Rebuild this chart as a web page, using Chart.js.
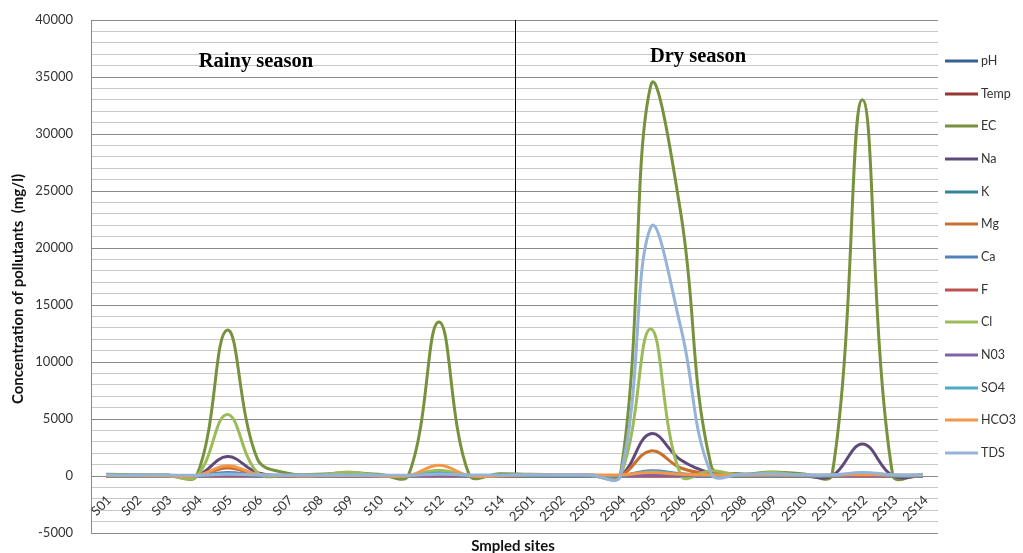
<!DOCTYPE html>
<html>
<head>
<meta charset="utf-8">
<script src="https://cdn.jsdelivr.net/npm/chart.js@4.4.1/dist/chart.umd.min.js"></script>
<style>
body{margin:0;background:#fff;}
</style>
</head>
<body>
<canvas id="chart" width="1023" height="553"></canvas>
<script>
//Data
var sites = ["S01","S02","S03","S04","S05","S06","S07","S08","S09","S10","S11","S12","S13","S14",
	"2S01","2S02","2S03","2S04","2S05","2S06","2S07","2S08","2S09","2S10","2S11","2S12","2S13","2S14"];
var yLabels = [-5000,0,5000,10000,15000,20000,25000,30000,35000,40000];
var yMinor = 1000;
var names = ["pH","Temp","EC","Na","K","Mg","Ca","F","Cl","N03","SO4","HCO3","TDS"];
var colors = ["#366092","#953735","#76923C","#5F497A","#31859C","#C9702E","#4F81BD","#C0504D","#9BBB59","#8064A2","#4BACC6","#F79646","#95B3D7"];
var pH   = [7.2,7.0,6.8,7.1,7.4,7.3,6.9,7.0,7.2,7.1,6.8,7.5,7.3,7.0, 7.4,7.6,7.2,7.3,7.8,7.5,7.1,7.2,7.4,7.0,7.3,7.6,7.2,7.1];
var temp = [28.5,29.1,28.7,29.4,30.2,29.8,28.9,29.0,29.5,28.6,29.2,30.1,29.7,28.8, 31.2,31.8,30.9,31.5,32.1,31.4,30.8,31.0,31.6,30.7,31.3,32.0,31.1,30.9];
var ec   = [150,120,100,80,12800,1500,250,150,300,150,100,13500,120,200, 150,120,100,80,34200,23000,900,200,350,200,150,33000,100,150];
var na   = [20,15,18,12,1700,300,40,30,35,25,20,150,30,25, 30,25,20,15,3700,1400,250,60,50,20,10,2800,20,30];
var k    = [5,4,6,3,150,20,5,4,6,5,4,300,6,5, 10,8,9,7,300,120,15,10,12,9,8,200,10,9];
var mg   = [15,12,10,8,700,120,20,15,18,12,10,250,14,12, 20,18,15,12,2200,700,150,40,35,25,20,180,25,20];
var ca   = [30,25,20,18,300,60,30,25,28,22,20,350,25,22, 40,35,30,25,450,200,60,40,45,35,30,250,35,30];
var f    = [0.8,0.6,0.7,0.5,1.2,0.9,0.6,0.7,0.8,0.5,0.6,1.1,0.7,0.6, 1.0,0.9,0.8,0.7,1.5,1.2,0.8,0.9,1.0,0.8,0.7,1.3,0.9,0.8];
var cl   = [30,25,20,15,5400,300,40,30,350,30,25,500,30,40, 50,40,30,25,12900,50,450,80,300,60,50,150,60,50];
var no3  = [20,18,15,12,60,25,15,12,18,14,12,50,15,14, 25,20,18,15,80,40,20,18,20,15,14,60,18,16];
var so4  = [10,8,9,7,200,40,10,8,12,9,8,250,10,9, 20,18,15,12,400,150,30,20,25,18,15,200,20,18];
var hco3 = [40,35,30,25,900,150,40,35,40,30,25,950,35,30, 100,100,100,100,300,150,100,90,100,90,90,120,90,90];
var tds  = [100,90,80,70,150,100,90,80,90,80,70,150,90,80, 120,100,90,0,21800,13000,200,150,200,120,100,300,120,100];
var series = [pH,temp,ec,na,k,mg,ca,f,cl,no3,so4,hco3,tds];
//Decorations
var decor = {
	id:'decor',
	beforeDatasetsDraw:function(chart){
		var ctx = chart.ctx, xs = chart.scales.x, ys = chart.scales.y;
		var sx = Math.round((xs.getPixelForValue(13)+xs.getPixelForValue(14))/2)+0.5;
		ctx.save();
		ctx.strokeStyle = '#000';
		ctx.lineWidth = 1;
		ctx.beginPath();
		ctx.moveTo(sx,ys.getPixelForValue(40000));
		ctx.lineTo(sx,ys.getPixelForValue(0));
		ctx.stroke();
		ctx.restore();
	},
	afterDraw:function(chart){
		var ctx = chart.ctx, xs = chart.scales.x, ys = chart.scales.y;
		var y0 = ys.getPixelForValue(0);
		ctx.save();
		//x labels
		ctx.fillStyle = '#333';
		ctx.font = '13px Lato';
		ctx.textAlign = 'right';
		ctx.textBaseline = 'middle';
		sites.forEach(function(s,i){
			ctx.save();
			ctx.translate(xs.getPixelForValue(i)+3,y0+22);
			ctx.rotate(-Math.PI/4);
			ctx.fillText(s,0,0);
			ctx.restore();
		});
		//axis titles
		ctx.textAlign = 'center';
		ctx.fillStyle = '#111';
		ctx.font = 'bold 15px Lato';
		ctx.fillText('Smpled sites',513,546);
		ctx.save();
		ctx.translate(18,289);
		ctx.rotate(-Math.PI/2);
		ctx.fillText('Concentration of pollutants  (mg/l)',0,0);
		ctx.restore();
		//season notes
		ctx.fillStyle = '#000';
		ctx.font = 'bold 20.5px "Liberation Serif"';
		ctx.fillText('Rainy season',256,62);
		ctx.fillText('Dry season',698,57);
		//legend
		ctx.textAlign = 'left';
		ctx.font = '12.5px Lato';
		chart.data.datasets.forEach(function(ds,i){
			var ly = Math.round(61+i*32.67);
			ctx.strokeStyle = ds.borderColor;
			ctx.lineWidth = 3;
			ctx.beginPath();
			ctx.moveTo(945,ly);
			ctx.lineTo(978,ly);
			ctx.stroke();
			ctx.fillStyle = '#333';
			ctx.fillText(ds.label,981,ly);
		});
		ctx.restore();
	}
};
//Chart
var datasets = series.map(function(d,i){
	return {label:names[i],data:d,borderColor:colors[i],backgroundColor:colors[i],order:series.length-1-i};
});
new Chart(document.getElementById('chart'),{
	type:'line',
	data:{labels:sites,datasets:datasets},
	plugins:[decor],
	options:{
		responsive:false,
		animation:false,
		layout:{padding:{top:20,bottom:20,right:85,left:0}},
		plugins:{legend:{display:false},tooltip:{enabled:false}},
		elements:{point:{radius:0},line:{tension:0.4,borderWidth:3,fill:false}},
		scales:{
			x:{
				offset:true,
				grid:{display:false},
				border:{display:false},
				ticks:{display:false},
				afterFit:function(s){s.height=0;}
			},
			y:{
				min:-5000,
				max:40000,
				afterBuildTicks:function(s){
					var t = [];
					for(var v=yLabels[0];v<=yLabels[yLabels.length-1];v+=yMinor){t.push({value:v});}
					s.ticks = t;
				},
				afterFit:function(s){s.width=91;s.paddingTop=0;s.paddingBottom=0;},
				ticks:{
					autoSkip:false,
					padding:18,
					color:'#333',
					font:{family:'Lato',size:13},
					callback:function(v){return yLabels.indexOf(v)>=0 ? String(v) : '';}
				},
				grid:{
					drawTicks:false,
					color:function(c){return c.tick && yLabels.indexOf(c.tick.value)>=0 ? '#8a8a8a' : '#c8c8c8';}
				},
				border:{color:'#8a8a8a'}
			}
		}
	}
});
</script>
</body>
</html>
